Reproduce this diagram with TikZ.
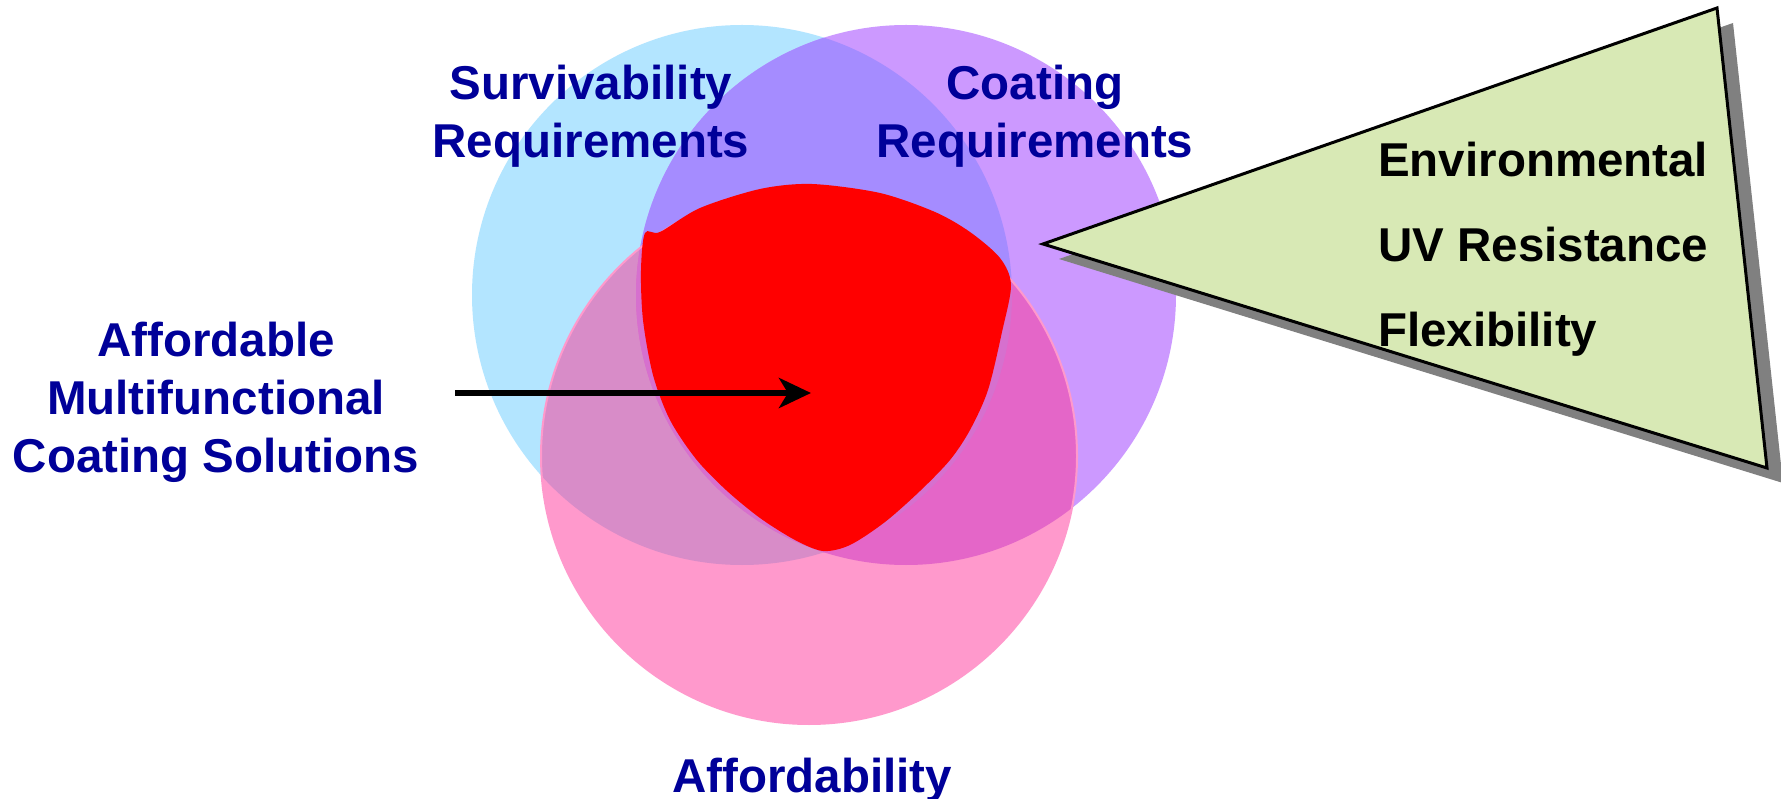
\documentclass[tikz,border=0pt]{standalone}
\usepackage{fontspec}
\setmainfont{Liberation Sans}
\usetikzlibrary{arrows.meta}
\definecolor{cblue}{RGB}{179,229,255}
\definecolor{cpurple}{RGB}{204,153,255}
\definecolor{cpink}{RGB}{255,153,204}
\definecolor{cbp}{RGB}{165,140,255}
\definecolor{cbk}{RGB}{216,140,200}
\definecolor{cpk}{RGB}{228,102,200}
\definecolor{ctri}{RGB}{214,112,206}
\definecolor{cred}{RGB}{255,0,0}
\definecolor{navytext}{RGB}{0,0,153}
\definecolor{trifill}{RGB}{216,233,181}
\definecolor{shadowgray}{RGB}{128,128,128}
\begin{document}
\begin{tikzpicture}[x=1pt,y=-1pt,
  lbl/.style={font=\fontsize{47.5}{58}\selectfont\bfseries, text=navytext, align=center, inner sep=0pt, anchor=base},
  tlbl/.style={font=\fontsize{47.5}{58}\selectfont\bfseries, text=black, anchor=base west, inner sep=0pt},
  arrowline/.style={line width=6pt, -{Stealth[length=32pt,width=30pt,inset=9pt]}}]
\useasboundingbox (0,0) rectangle (1781,799);
\fill[white] (0,0) rectangle (1781,799);
\coordinate (cB) at (742,295);
\coordinate (cP) at (906,295);
\coordinate (cK) at (809,456);
% circles
\fill[cblue] (cB) circle[radius=270];
\fill[cpurple] (cP) circle[radius=270];
\fill[cpink] (cK) circle[radius=268];
\begin{scope}
  \clip (cB) circle[radius=270];
  \fill[cbp] (cP) circle[radius=270];
\end{scope}
\begin{scope}
  \clip (cB) circle[radius=270];
  \fill[cbk] (cK) circle[radius=268];
\end{scope}
\begin{scope}
  \clip (cP) circle[radius=270];
  \fill[cpk] (cK) circle[radius=268];
\end{scope}
\begin{scope}
  \clip (cB) circle[radius=270];
  \clip (cP) circle[radius=270];
  \fill[ctri] (cK) circle[radius=268];
\end{scope}
\draw[cpink, line width=2pt] (cK) circle[radius=268];
% red blob
\fill[cred] plot[smooth cycle, tension=0.5] coordinates {
  (645,233) (660,232) (700,208) (760,189) (812,184) (880,193) (935,212)
  (970,232) (1000,258) (1011,285) (1002,332) (988,390) (970,430) (950,460)
  (920,491) (885,522) (850,545) (823,551) (795,540) (760,518) (726,490)
  (696,459) (670,420) (653,375) (643,320) (641,270)};
% arrow
\coordinate (arrowstart) at (455,393);
\coordinate (blobc) at (811,393);
\draw[arrowline] (arrowstart) -- (blobc);
% triangle with shadow
\coordinate (tip) at (1043,244);
\coordinate (tr) at (1717,8);
\coordinate (br) at (1767,468);
\fill[shadowgray] ([shift={(16,15)}]tip) -- ([shift={(16,15)}]tr) -- ([shift={(16,15)}]br) -- cycle;
\filldraw[fill=trifill, draw=black, line width=3pt, line join=miter] (tip) -- (tr) -- (br) -- cycle;
% labels
\node[lbl] (surv) at (591,158) {Survivability\\Requirements};
\node[lbl] (coat) at (1035,158) {Coating\\Requirements};
\node[lbl] (afford) at (812,792) {Affordability};
\node[lbl] (amcs) at (216,472) {Affordable\\Multifunctional\\Coating Solutions};
\node[tlbl] (env) at (1378,177) {Environmental};
\node[tlbl] (uv) at (1378,262) {UV Resistance};
\node[tlbl] (flex) at (1378,347) {Flexibility};
\end{tikzpicture}
\end{document}
